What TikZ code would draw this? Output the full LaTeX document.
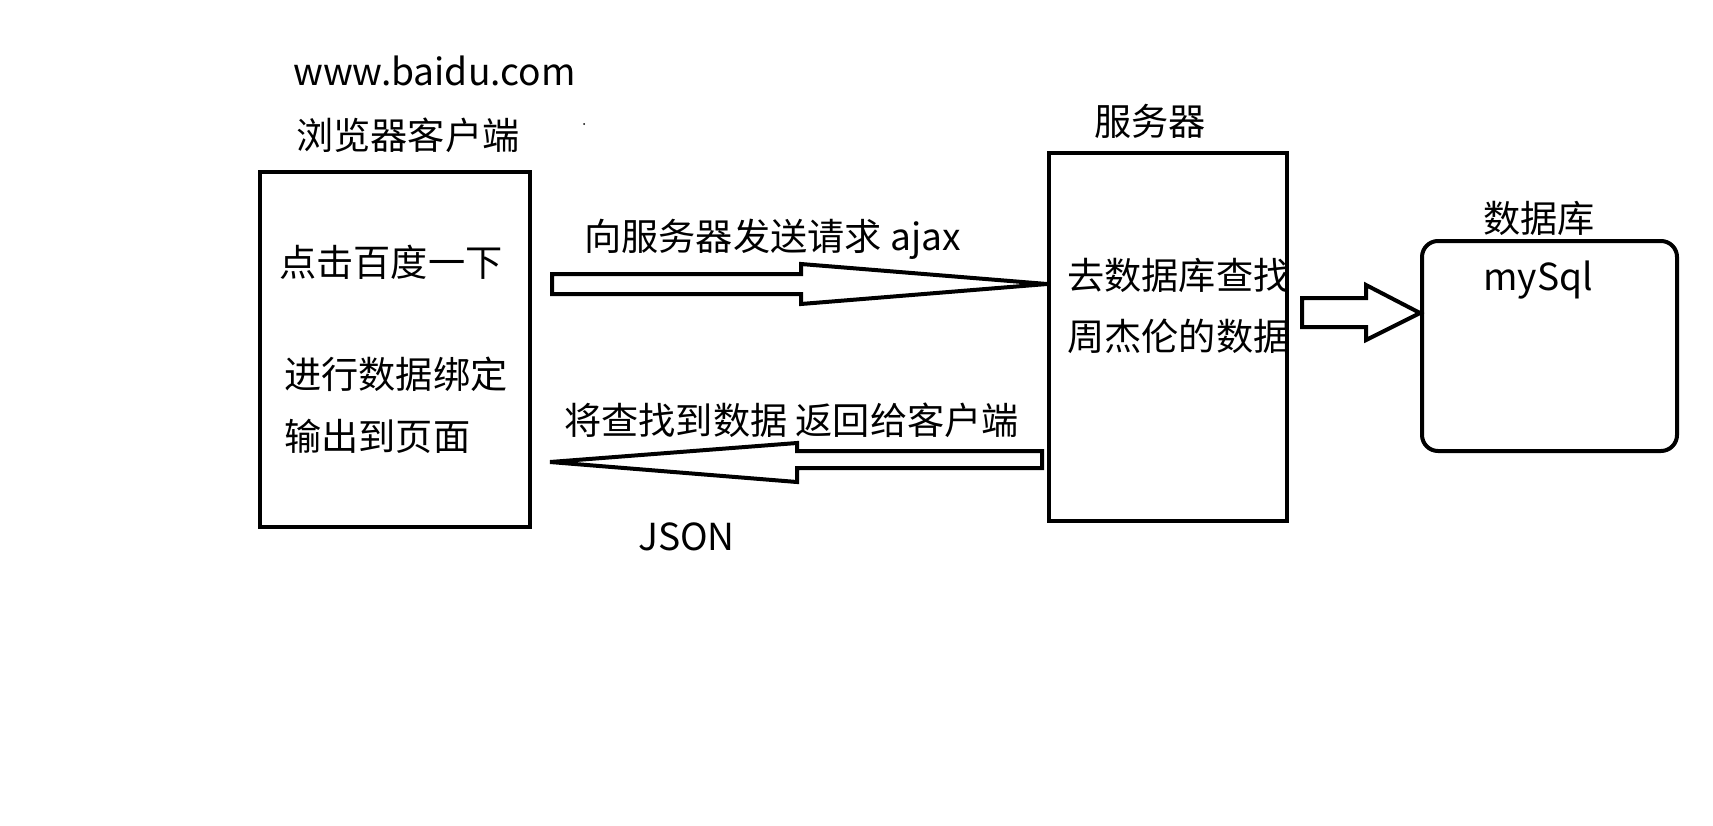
\documentclass[tikz,border=0pt]{standalone}
\usepackage{fontspec}
\setmainfont{Noto Sans CJK SC}
\begin{document}
\begin{tikzpicture}[x=1pt,y=-1pt,
  lbl/.style={anchor=base west, inner sep=0pt, font=\fontsize{37.2}{40}\selectfont},
  box/.style={draw, line width=4pt, inner sep=0pt},
  blockarrow/.style={draw, line width=4pt, line join=miter, fill=white}]
\useasboundingbox (0,0) rectangle (1713,825);
% boxes
\node[box, minimum width=270pt, minimum height=355pt] (client) at (395,349.5) {};
\node[box, minimum width=238pt, minimum height=368pt] (server) at (1168,337) {};
\node[box, rounded corners=16pt, minimum width=255pt, minimum height=210pt] (db) at (1549.5,346) {};
% labels
\node[lbl] (url) at (293,85) {www.baidu.com};
\node[lbl] (clientT) at (296,149) {浏览器客户端};
\node[lbl] (c1) at (279,276) {点击百度一下};
\node[lbl] (c2) at (284,388) {进行数据绑定};
\node[lbl] (c3) at (284,450) {输出到页面};
\node[lbl] (serverT) at (1094,135) {服务器};
\node[lbl] (s1) at (1067,289) {去数据库查找};
\node[lbl] (s2) at (1067,350) {周杰伦的数据};
\node[lbl] (dbT) at (1483,232) {数据库};
\node[lbl] (dbN) at (1483,290) {mySql};
\node[lbl] (req) at (584,250) {向服务器发送请求 ajax};
\node[lbl] (resp) at (564,434) {将查找到数据 返回给客户端};
\node[lbl] (json) at (638,550) {JSON};
\fill (584,124) circle (1pt);
% arrows
\draw[blockarrow] (552,274) -- (801,274) -- (801,264) -- (server.west |- 0,284) -- (801,304) -- (801,294) -- (552,294) -- cycle;
\draw[blockarrow] (1042,451) -- (797,451) -- (797,443) -- (550,462) -- (797,482) -- (797,468) -- (1042,468) -- cycle;
\draw[blockarrow] (1302,298) -- (1366,298) -- (1366,285) -- (db.west |- 0,313) -- (1366,340) -- (1366,327) -- (1302,327) -- cycle;
\end{tikzpicture}
\end{document}
